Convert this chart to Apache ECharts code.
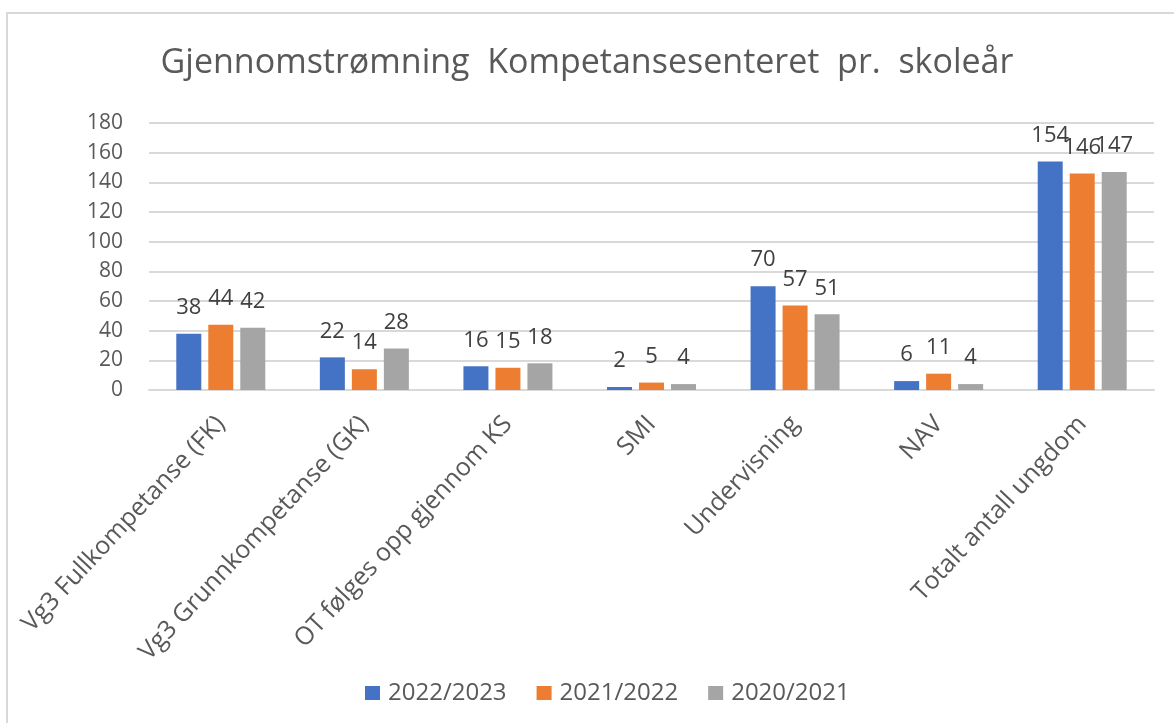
<!DOCTYPE html>
<html>
<head>
<meta charset="utf-8">
<script src="https://cdn.jsdelivr.net/npm/echarts@6/dist/echarts.min.js"></script>
<style>
html,body{margin:0;padding:0;background:#fff;}
#chart{width:1174px;height:723px;}
</style>
</head>
<body>
<div id="chart"></div>
<script>
const titleText = 'Gjennomstrømning  Kompetansesenteret  pr.  skoleår';
const categories = ['Vg3 Fullkompetanse (FK)', 'Vg3 Grunnkompetanse (GK)', 'OT følges opp gjennom KS', 'SMI', 'Undervisning', 'NAV', 'Totalt antall ungdom'];
const seriesNames = ['2022/2023', '2021/2022', '2020/2021'];
const values2223 = [38, 22, 16, 2, 70, 6, 154];
const values2122 = [44, 14, 15, 5, 57, 11, 146];
const values2021 = [42, 28, 18, 4, 51, 4, 147];
const colors = ['#4472C4', '#ED7D31', '#A5A5A5'];
const yMin = 0, yMax = 180, yStep = 20;

const FONT = '"Open Sans", "Noto Sans", sans-serif';
const chart = echarts.init(document.getElementById('chart'), null, {renderer: 'canvas'});

function barSeries(name, data, color) {
  return {
    name: name,
    type: 'bar',
    data: data,
    barWidth: 25,
    barGap: '28%',
    itemStyle: {color: color},
    label: {
      show: true,
      position: 'top',
      distance: 15,
      color: '#404040',
      fontSize: 22,
      fontFamily: FONT
    }
  };
}

chart.setOption({
  animation: false,
  backgroundColor: '#ffffff',
  color: colors,
  graphic: [{
    type: 'rect',
    shape: {x: 7, y: 13, width: 1300, height: 900},
    style: {fill: 'none', stroke: '#d9d9d9', lineWidth: 2},
    silent: true,
    z: -10
  }],
  title: {
    text: titleText,
    left: 'center',
    top: 41,
    textStyle: {color: '#595959', fontSize: 34, fontWeight: 'normal', fontFamily: FONT}
  },
  legend: {
    data: seriesNames,
    top: 676,
    left: 360,
    icon: 'rect',
    itemWidth: 15,
    itemHeight: 14,
    itemGap: 30,
    textStyle: {color: '#595959', fontSize: 24, fontFamily: FONT, padding: [0, 0, 0, 3]}
  },
  grid: {left: 149, right: 20, top: 123, bottom: 333, containLabel: false},
  xAxis: {
    type: 'category',
    data: categories,
    axisLine: {show: true, lineStyle: {color: '#d9d9d9', width: 2}},
    axisTick: {show: false},
    axisLabel: {interval: 0, rotate: 47, margin: 30, color: '#595959', fontSize: 25, fontFamily: FONT}
  },
  yAxis: {
    type: 'value',
    min: yMin,
    max: yMax,
    interval: yStep,
    axisLine: {show: false},
    axisTick: {show: false},
    splitLine: {lineStyle: {color: '#d9d9d9', width: 2}},
    axisLabel: {margin: 26, color: '#595959', fontSize: 21, fontFamily: FONT}
  },
  series: [
    barSeries(seriesNames[0], values2223, colors[0]),
    barSeries(seriesNames[1], values2122, colors[1]),
    barSeries(seriesNames[2], values2021, colors[2])
  ]
});
</script>
</body>
</html>
